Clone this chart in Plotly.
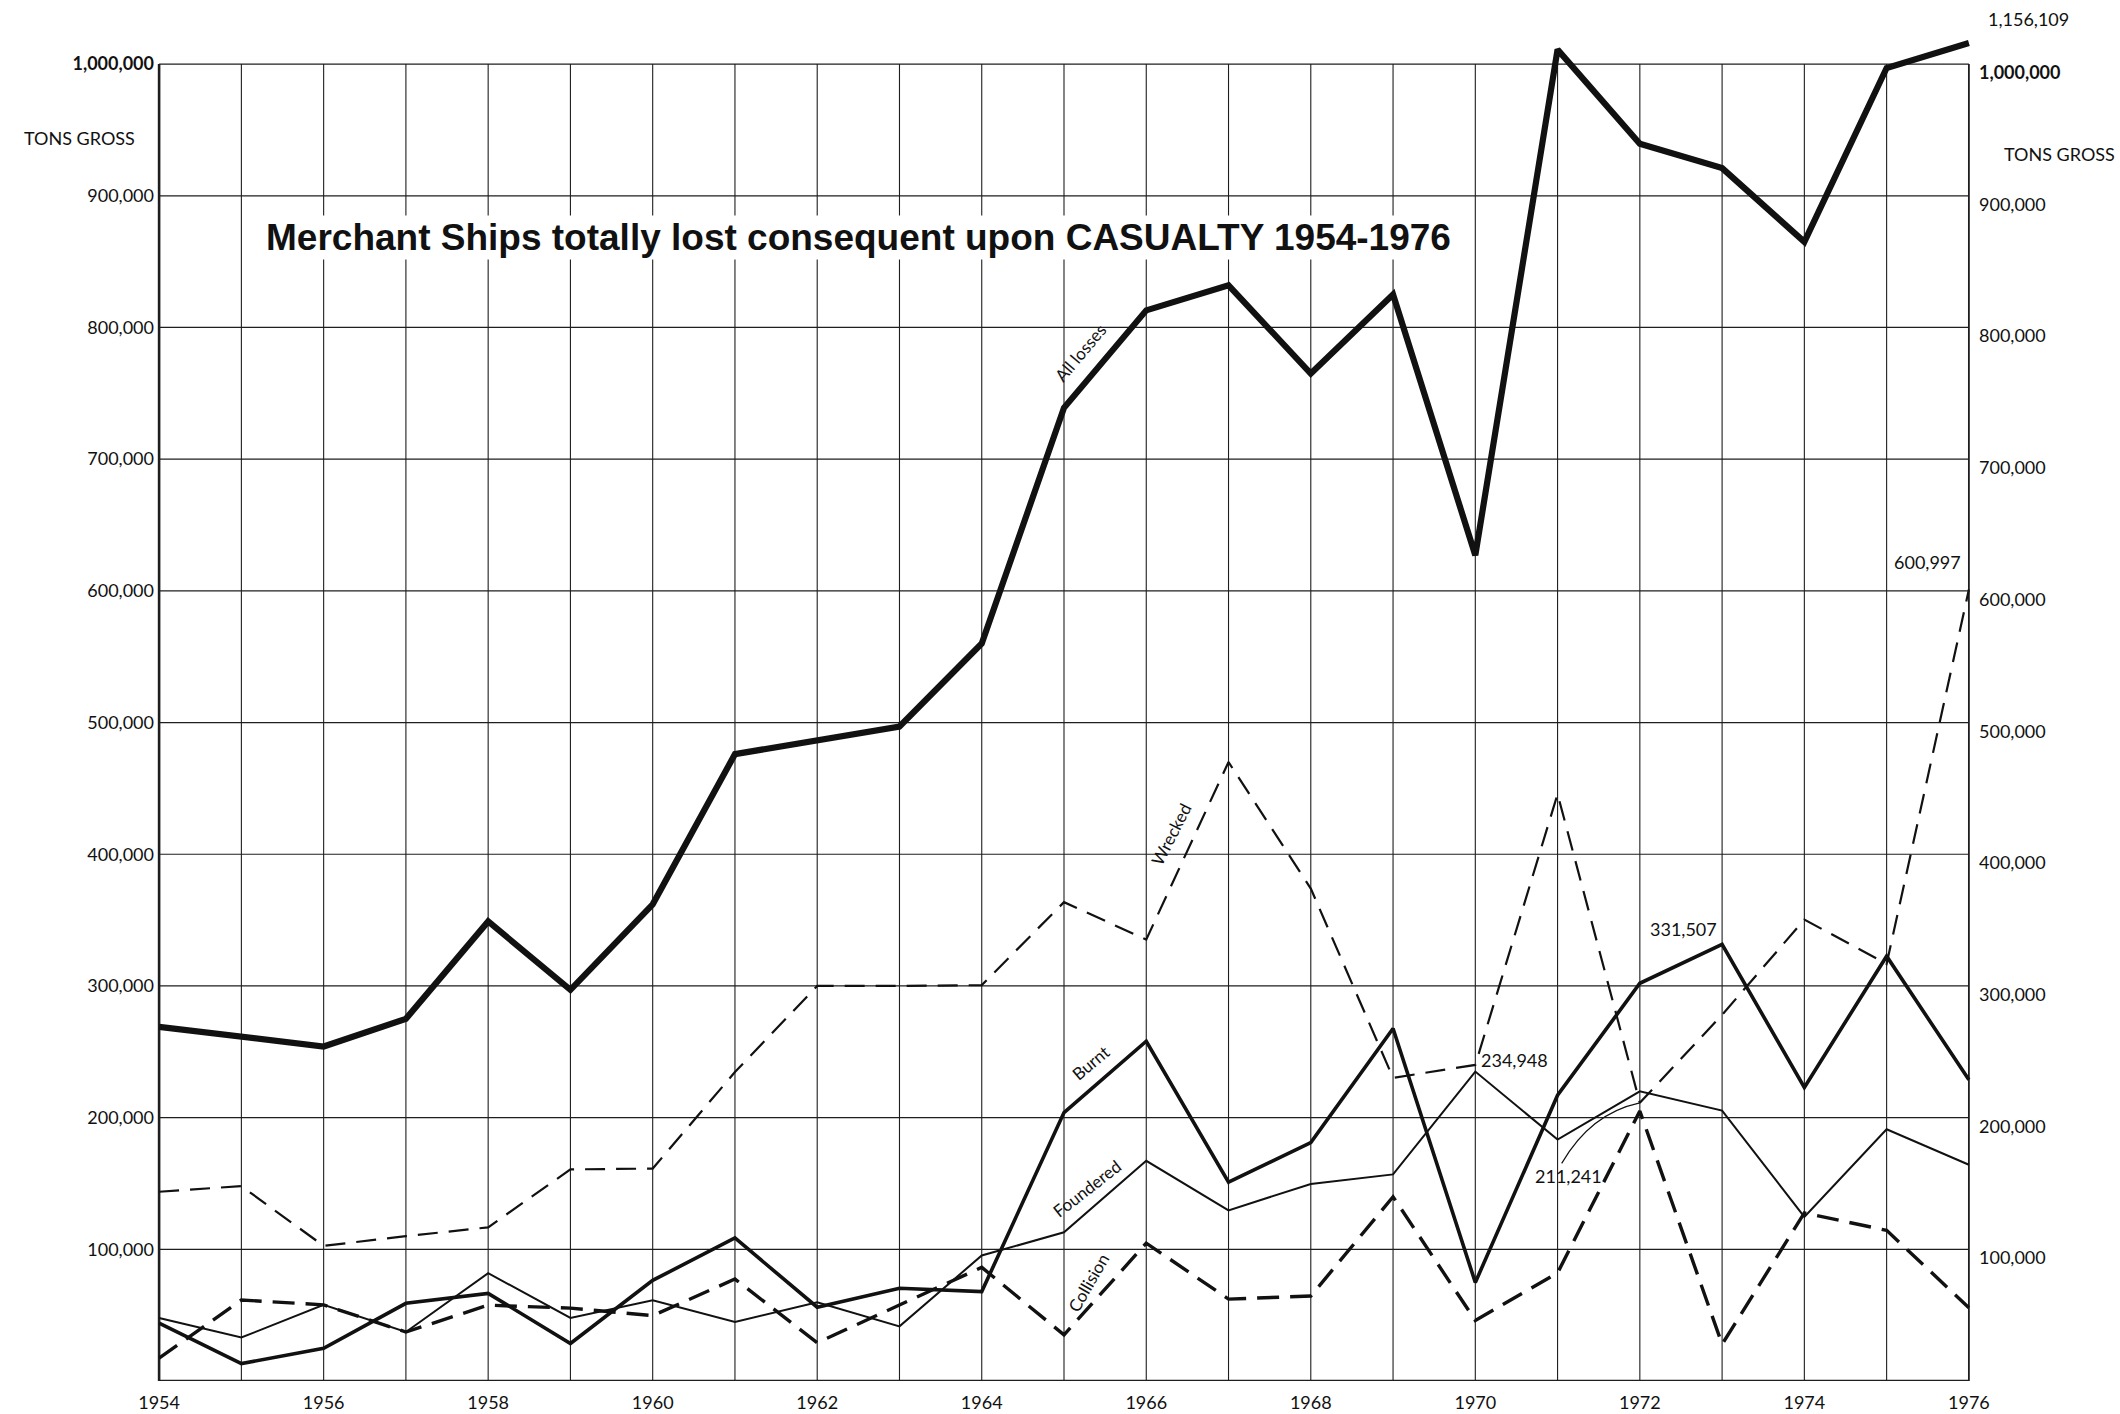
import plotly.graph_objects as go

# ---------------- data ----------------
years = list(range(1954, 1977))

all_losses = [268900, 262000, 254000, 275000, 349000, 297000, 362000, 476000,
              487000, 497000, 560000, 739000, 813000, 832000, 765000, 825000,
              627000, 1011000, 939500, 921000, 865000, 997000, 1016000]
all_losses_1976_label = "1,156,109"

wrecked = [143700, 148000, 102600, 110000, 116700, 160700, 161300, 234600,
           300000, 300000, 300600, 363600, 335200, 470000, 373900, 230200,
           240000, 445700, 211241, 278000, 350400, 316700, 600997]

burnt = [43900, 13200, 24800, 59000, 66500, 28500, 76400, 108600,
         56000, 70400, 67900, 203800, 258000, 151000, 181000, 267700,
         74800, 217000, 302000, 331507, 222900, 322600, 228700]

foundered = [47900, 33000, 57800, 37200, 81900, 47900, 61300, 44800,
             59700, 41500, 95300, 112900, 167200, 129600, 149600, 156900,
             234948, 183300, 220000, 205300, 124600, 191200, 164200]

collision = [17400, 61500, 57800, 37200, 57600, 55300, 49600, 77400,
             29100, 57500, 86300, 35000, 104700, 62200, 64500, 139900,
             46000, 82100, 205000, 27900, 127600, 114400, 55700]

y_ticks = [100000, 200000, 300000, 400000, 500000,
           600000, 700000, 800000, 900000, 1000000]
y_tick_text = ["100,000", "200,000", "300,000", "400,000", "500,000",
               "600,000", "700,000", "800,000", "900,000", "<b>1,000,000</b>"]
x_ticks = list(range(1954, 1977, 2))
x_tick_text = [str(y) for y in x_ticks]

title_text = "Merchant Ships totally lost consequent upon CASUALTY 1954-1976"
unit_text = "TONS GROSS"

# ---------------- styling ----------------
FONT = "Lato, 'Open Sans', sans-serif"
TITLE_FONT = "'Liberation Sans Narrow', 'Liberation Sans', Arial, sans-serif"
INK = "#111111"
GRID = "#1e1e1e"

fig = go.Figure()

shapes = []
for yr in years:
    w = 2.6 if yr == years[0] else (1.8 if yr == years[-1] else 1.1)
    shapes.append(dict(type="line", xref="x", yref="y", x0=yr, x1=yr,
                       y0=0, y1=y_ticks[-1], layer="below",
                       line=dict(color=GRID, width=w)))
for v in [0] + y_ticks:
    shapes.append(dict(type="line", xref="x", yref="y", x0=years[0], x1=years[-1],
                       y0=v, y1=v, layer="below",
                       line=dict(color=GRID, width=2.6 if v == 0 else 1.2)))

# leader curve for the 211,241 label
i72 = years.index(1972)
x1, y1 = years[i72], wrecked[i72]
x0, y0 = x1 - 0.95, y1 - 46000
cx, cy = x1 - 0.6, y1 - 8000
shapes.append(dict(type="path", xref="x", yref="y",
                   path=f"M {x0},{y0} Q {cx},{cy} {x1},{y1}",
                   line=dict(color=INK, width=1.2)))

fig.add_trace(go.Scatter(x=years, y=wrecked, mode="lines", hoverinfo="skip",
                         line=dict(color=INK, width=2.2, dash="20px,11px")))
fig.add_trace(go.Scatter(x=years, y=collision, mode="lines", hoverinfo="skip",
                         line=dict(color=INK, width=3.4, dash="22px,11px")))
fig.add_trace(go.Scatter(x=years, y=foundered, mode="lines", hoverinfo="skip",
                         line=dict(color=INK, width=2.0)))
fig.add_trace(go.Scatter(x=years, y=burnt, mode="lines", hoverinfo="skip",
                         line=dict(color=INK, width=3.6)))
fig.add_trace(go.Scatter(x=years, y=all_losses, mode="lines", hoverinfo="skip",
                         line=dict(color=INK, width=6.2)))

ann = []
# right-hand scale
for v, t in zip(y_ticks, y_tick_text):
    ann.append(dict(xref="x", yref="y", x=years[-1], y=v, text=t, showarrow=False,
                    xanchor="left", yanchor="middle", xshift=8, yshift=-8,
                    font=dict(family=FONT, size=18, color=INK)))
# units
ann.append(dict(xref="x", yref="y", x=years[0], y=944000, text=unit_text,
                showarrow=False, xanchor="right", xshift=-22,
                font=dict(family=FONT, size=18, color=INK)))
ann.append(dict(xref="x", yref="y", x=years[-1], y=932000, text=unit_text,
                showarrow=False, xanchor="left", xshift=33,
                font=dict(family=FONT, size=18, color=INK)))
# title
ann.append(dict(xref="x", yref="y", x=1962.5, y=868000, text="<b>" + title_text + "</b>",
                showarrow=False, xanchor="center", yanchor="middle",
                bgcolor="white", font=dict(family=TITLE_FONT, size=37, color=INK)))
# series labels along the lines
lab_font = dict(family=FONT, size=17, color=INK)
for txt, x, y, ang in [("All losses", 1965.2, 781000, -50),
                       ("Wrecked", 1966.3, 415000, -63),
                       ("Burnt", 1965.33, 241500, -40),
                       ("Foundered", 1965.28, 146000, -38),
                       ("Collision", 1965.3, 74500, -60)]:
    ann.append(dict(xref="x", yref="y", x=x, y=y, text=txt, textangle=ang,
                    showarrow=False, font=lab_font))
# value labels
num_font = dict(family=FONT, size=18, color=INK)
ann.append(dict(xref="x", yref="y", x=1970.48, y=243700, text=f"{foundered[years.index(1970)]:,}",
                showarrow=False, font=num_font))
ann.append(dict(xref="x", yref="y", x=1971.13, y=155700, text=f"{wrecked[years.index(1972)]:,}",
                showarrow=False, font=num_font))
ann.append(dict(xref="x", yref="y", x=1972.53, y=343000, text=f"{burnt[years.index(1973)]:,}",
                showarrow=False, font=num_font))
ann.append(dict(xref="x", yref="y", x=1975.5, y=622000, text=f"{wrecked[-1]:,}",
                showarrow=False, font=num_font))
ann.append(dict(xref="x", yref="y", x=years[-1], y=all_losses[-1], text=all_losses_1976_label,
                showarrow=False, xanchor="center", yanchor="middle", xshift=60, yshift=24,
                font=num_font))

fig.update_layout(
    width=2120, height=1414,
    margin=dict(l=155, r=147, t=18, b=33, autoexpand=False),
    paper_bgcolor="white", plot_bgcolor="white",
    showlegend=False,
    shapes=shapes, annotations=ann,
    xaxis=dict(range=[1953.95, 1976.05], tickvals=x_ticks, ticktext=x_tick_text,
               showgrid=False, zeroline=False, showline=False, ticks="",
               ticklabelstandoff=9, automargin=False,
               tickfont=dict(family=FONT, size=18, color=INK)),
    yaxis=dict(range=[0, 1035000], tickvals=y_ticks, ticktext=y_tick_text,
               showgrid=False, zeroline=False, showline=False, ticks="",
               automargin=False,
               tickfont=dict(family=FONT, size=18, color=INK)),
)

fig.write_html("out.html", include_plotlyjs=True, full_html=True,
               default_width="2120px", default_height="1414px",
               config={"displayModeBar": False},
               post_script="document.body.style.margin='0';")
